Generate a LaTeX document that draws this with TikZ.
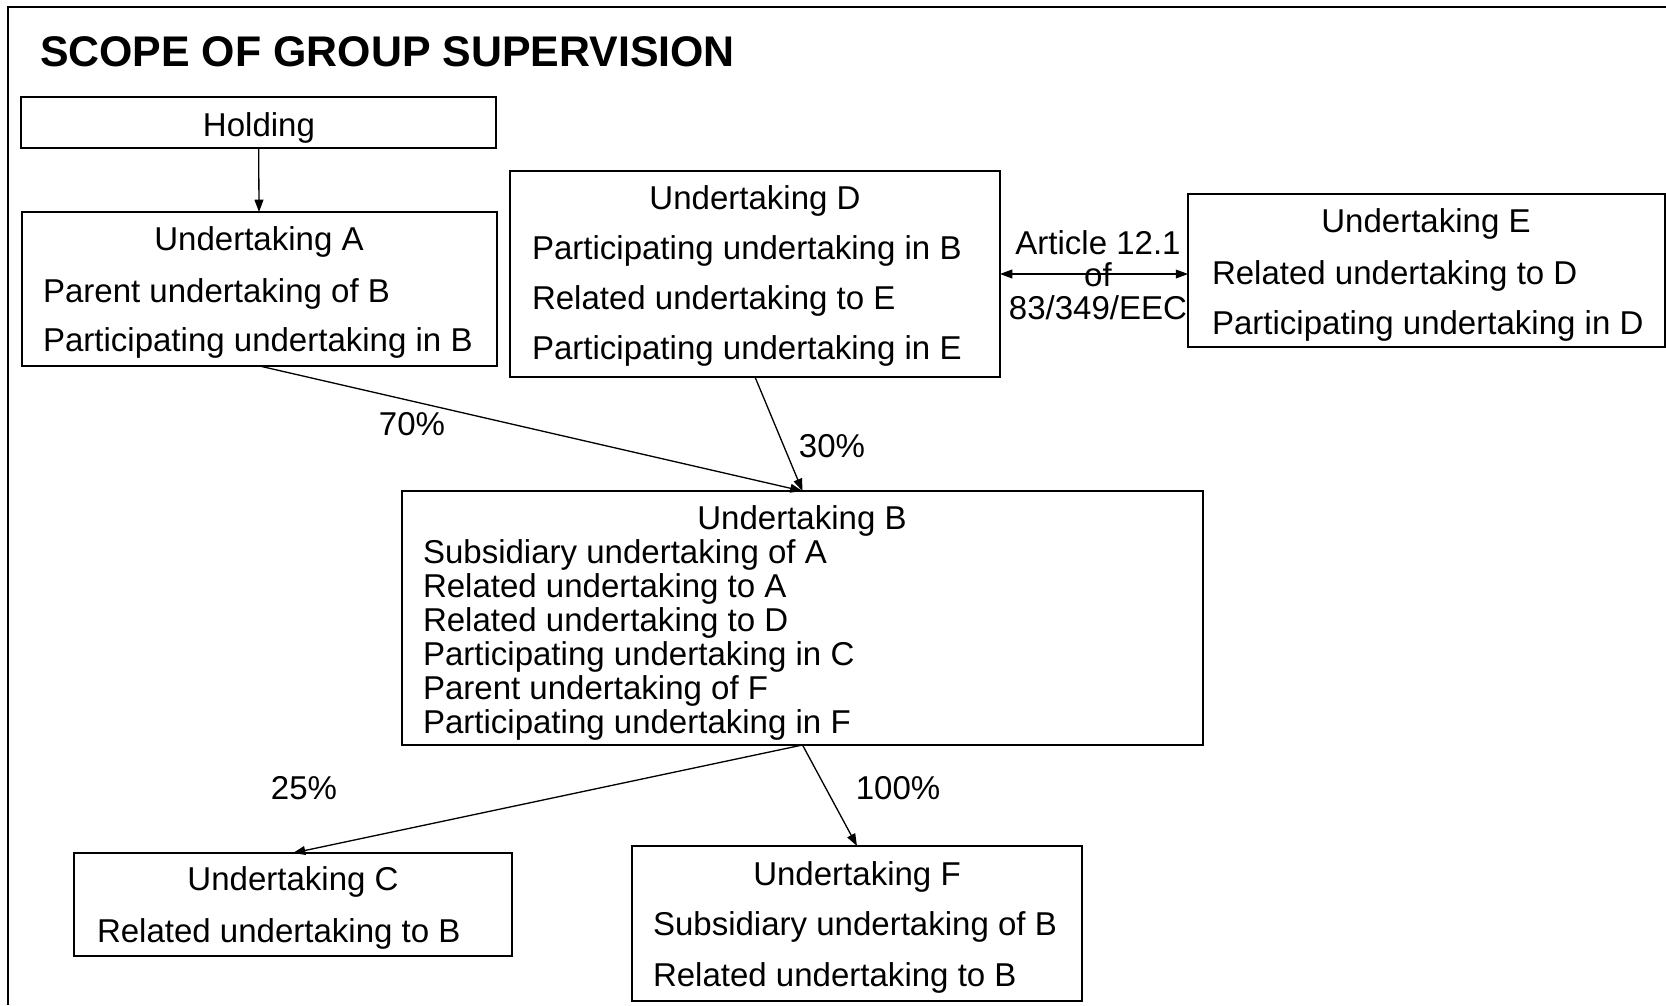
\documentclass[tikz,border=0pt]{standalone}
\usepackage{fontspec}
\setmainfont{Liberation Sans}
\usetikzlibrary{arrows.meta}

\begin{document}
\begin{tikzpicture}[x=0.02cm,y=-0.02cm,inner sep=0pt,outer sep=0pt,
ubox/.style={draw,rectangle,line width=1.5pt},
txt/.style={font=\fontsize{18.8}{27.8}\selectfont,align=left},
conn/.style={line width=0.75pt,-{Triangle[length=7pt,width=5pt]}}]
\useasboundingbox (0,0) rectangle (1666,1005);
\draw[line width=0.8pt] (1666,7) -- (8,7) -- (8,1005);
\draw (40,66) node[anchor=base west,font=\fontsize{24.4}{28}\selectfont\bfseries] (title) {SCOPE OF GROUP SUPERVISION};
% boxes
\draw (258.5,122.5) node[ubox,minimum width=9.5cm,minimum height=1.02cm] (hold) {};
\draw (259.5,289) node[ubox,minimum width=9.5cm,minimum height=3.08cm] (uA) {};
\draw (755,274) node[ubox,minimum width=9.8cm,minimum height=4.12cm] (uD) {};
\draw (1426.5,270.5) node[ubox,minimum width=9.54cm,minimum height=3.06cm] (uE) {};
\draw (802.5,618) node[ubox,minimum width=16.02cm,minimum height=5.08cm] (uB) {};
\draw (293,904.5) node[ubox,minimum width=8.76cm,minimum height=2.06cm] (uC) {};
\draw (857,923.5) node[ubox,minimum width=9cm,minimum height=3.1cm] (uF) {};
% texts (base = last line)
\draw (259,136) node[txt,anchor=base] (holdtxt) {Holding};
\draw (259,250) node[txt,anchor=base] (hA) {Undertaking A};
\draw (43,351) node[txt,anchor=base west] (lA) {Parent undertaking of B\\Participating undertaking in B};
\draw (755,209) node[txt,anchor=base] (hD) {Undertaking D};
\draw (532,359) node[txt,anchor=base west,font=\fontsize{18.8}{28.3}\selectfont] (lD) {Participating undertaking in B\\Related undertaking to E\\Participating undertaking in E};
\draw (1426,232) node[txt,anchor=base] (hE) {Undertaking E};
\draw (1212,334) node[txt,anchor=base west,font=\fontsize{18.8}{28.3}\selectfont] (lE) {Related undertaking to D\\Participating undertaking in D};
\draw (802,529) node[txt,anchor=base] (hB) {Undertaking B};
\draw (423,733) node[txt,anchor=base west,font=\fontsize{18.8}{19.3}\selectfont] (lB) {Subsidiary undertaking of A\\Related undertaking to A\\Related undertaking to D\\Participating undertaking in C\\Parent undertaking of F\\Participating undertaking in F};
\draw (293,890) node[txt,anchor=base] (hC) {Undertaking C};
\draw (97,942) node[txt,anchor=base west] (lC) {Related undertaking to B};
\draw (857,885) node[txt,anchor=base] (hF) {Undertaking F};
\draw (653,986) node[txt,anchor=base west,font=\fontsize{18.8}{28.8}\selectfont] (lF) {Subsidiary undertaking of B\\Related undertaking to B};
\draw (1098,319) node[txt,anchor=base,align=center,font=\fontsize{18.8}{18.4}\selectfont] (art) {Article 12.1\\of\\83/349/EEC};
% connectors
\draw[conn] (hold) -- (uA);
\draw[conn] (uA.south) -- (uB.north);
\draw[conn] (uD.south) -- (uB.north);
\draw[conn] (uB.south) -- (uC.north);
\draw[conn] (uB.south) -- (uF.north);
\draw[conn,{Triangle[length=7pt,width=5pt]}-{Triangle[length=7pt,width=5pt]}] (uD.east) -- (uD.east -| uE.west);
\draw (412,424) node[txt] (p70) {70\%};
\draw (832,446) node[txt] (p30) {30\%};
\draw (304,788) node[txt] (p25) {25\%};
\draw (898,788) node[txt] (p100) {100\%};
\end{tikzpicture}
\end{document}
